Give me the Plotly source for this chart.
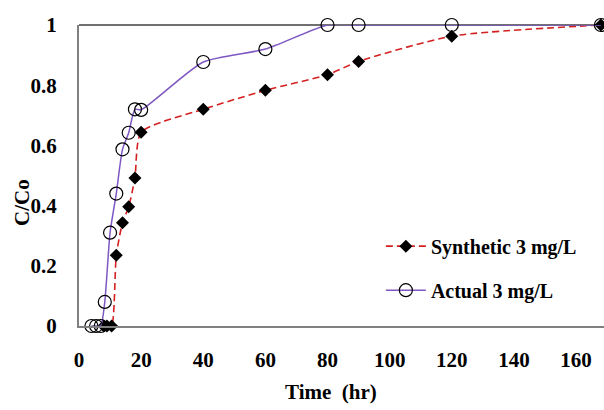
import plotly.graph_objects as go

# Data
syn_time = [8, 9, 10.5, 12, 14, 16, 18, 20, 40, 60, 80, 90, 120, 168]
syn_c = [0, 0, 0, 0.235, 0.343, 0.396, 0.492, 0.644, 0.72, 0.783, 0.835, 0.879, 0.963, 1.0]

act_time = [4, 5.5, 7, 8.3, 10, 12, 14, 16, 18, 20, 40, 60, 80, 90, 120, 168]
act_c = [0, 0, 0, 0.08, 0.31, 0.44, 0.587, 0.642, 0.72, 0.718, 0.877, 0.92, 1.0, 1.0, 1.0, 1.0]

x_ticks = [0, 20, 40, 60, 80, 100, 120, 140, 160]
y_ticks = [0, 0.2, 0.4, 0.6, 0.8, 1]
y_tick_text = ["0", "0.2", "0.4", "0.6", "0.8", "1"]

FONT = "Liberation Serif"
W, H = 604, 410
L, R, T, B = 79, 0, 25, 84

fig = go.Figure()
fig.add_trace(go.Scatter(
    x=syn_time, y=syn_c, name="<b>Synthetic 3 mg/L</b>", mode="lines+markers",
    line=dict(color="#D42020", width=1.6, dash="7px,4px", shape="spline", smoothing=0.6),
    marker=dict(symbol="diamond", size=10, color="black"),
    legendgroup="a", cliponaxis=False,
))
fig.add_trace(go.Scatter(
    x=act_time, y=act_c, name="<b>Actual 3 mg/L</b>", mode="lines+markers",
    line=dict(color="#7E57C2", width=1.5, shape="spline", smoothing=0.6),
    marker=dict(symbol="circle", size=13, color="rgba(255,255,255,0)",
                line=dict(color="black", width=1.2)),
    legendgroup="b", cliponaxis=False,
))

fig.add_shape(type="line", xref="paper", yref="paper", x0=0, x1=1, y0=1, y1=1,
              line=dict(color="#404040", width=1.5), layer="below")

pw = W - L - R
ph = H - T - B
fig.add_annotation(text="<b>Time  (hr)</b>", xref="paper", yref="paper",
                   x=(331 - L) / pw, y=-(392 - (T + ph)) / ph, showarrow=False,
                   xanchor="center", yanchor="middle", font=dict(family=FONT, size=21))
fig.add_annotation(text="<b>C/Co</b>", xref="paper", yref="paper",
                   x=(22 - L) / pw, y=1 - (203 - T) / ph, showarrow=False, textangle=-90,
                   xanchor="center", yanchor="middle", font=dict(family=FONT, size=21))

fig.update_layout(
    width=W, height=H,
    margin=dict(l=L, r=R, t=T, b=B, autoexpand=False),
    paper_bgcolor="white", plot_bgcolor="white",
    font=dict(family=FONT, size=21, color="black"),
    showlegend=True,
    legend=dict(x=0.575, y=0.33, xanchor="left", yanchor="top",
                bgcolor="rgba(0,0,0,0)", font=dict(family=FONT, size=20, color="black"),
                tracegroupgap=15, itemwidth=40),
    xaxis=dict(
        range=[0, 169], tickvals=x_ticks, ticktext=[f"<b>{v}</b>" for v in x_ticks],
        showgrid=False, zeroline=False, showline=True, linecolor="#808080", linewidth=2,
        ticks="", ticklabelstandoff=14, automargin=False,
    ),
    yaxis=dict(
        range=[0, 1], tickvals=y_ticks, ticktext=[f"<b>{t}</b>" for t in y_tick_text],
        showgrid=False, zeroline=False, showline=True, linecolor="#808080", linewidth=2,
        ticks="", ticklabelstandoff=16, automargin=False,
    ),
)

fig.write_html("out.html", config={"displayModeBar": False},
               post_script="document.body.style.margin='0';document.body.style.overflow='hidden';")
